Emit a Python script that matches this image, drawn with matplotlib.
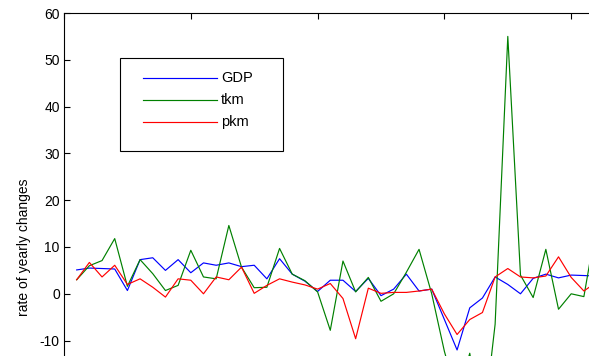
import matplotlib
matplotlib.use("Agg")
import matplotlib.pyplot as plt
from matplotlib.lines import Line2D
from matplotlib.patches import Rectangle

# yearly rate of change, one value per year (last point runs off the visible area)
years = list(range(1961, 2003))
gdp = [5.1, 5.5, 5.4, 5.3, 0.7, 7.3, 7.7, 5.0, 7.3, 4.5,
       6.6, 6.1, 6.6, 5.8, 6.1, 3.2, 7.5, 4.2, 2.7, 0.5,
       2.9, 2.9, 0.5, 3.3, -0.4, 1.0, 4.2, 0.6, 1.0, -5.5,
       -12.0, -3.0, -0.9, 3.6, 2.0, 0.0, 3.3, 4.2, 3.4, 4.0,
       3.9, 3.8]
tkm = [3.0, 6.0, 7.1, 11.8, 1.6, 7.3, 4.3, 0.7, 1.8, 9.3,
       3.6, 3.2, 14.6, 5.7, 1.3, 1.4, 9.7, 4.2, 2.8, 0.4,
       -7.8, 7.0, 0.4, 3.5, -1.6, 0.0, 4.6, 9.5, 0.0, -12.3,
       -22.0, -12.7, -30.0, -6.5, 55.0, 4.0, -0.8, 9.5, -3.3, 0.0,
       -0.6, 15.0]
pkm = [3.0, 6.7, 3.6, 6.1, 2.0, 3.2, 1.4, -0.7, 3.2, 2.9,
       0.0, 3.6, 3.0, 5.7, 0.1, 1.8, 3.2, 2.5, 1.9, 1.0,
       2.2, -1.0, -9.6, 1.2, 0.1, 0.3, 0.3, 0.6, 1.0, -4.3,
       -8.7, -5.5, -4.0, 3.6, 5.4, 3.6, 3.4, 3.8, 7.9, 3.5,
       0.6, 2.5]
series = [("GDP", gdp, "#0000ff"), ("tkm", tkm, "#008000"), ("pkm", pkm, "#ff0000")]
ytick_values = list(range(-40, 70, 10))

plt.rcParams["font.family"] = ["Liberation Sans", "DejaVu Sans"]

W, H = 589, 356
fig = plt.figure(figsize=(W / 100, H / 100), dpi=100)
fig.patch.set_facecolor("white")

# the original plot is cropped: axes run past the right and bottom edges
left, top, right, bottom = 64, 13, 698, 481
ax = fig.add_axes([left / W, (H - bottom) / H, (right - left) / W, (bottom - top) / H])

for name, vals, color in series:
    ax.plot(years, vals, color=color, lw=0.85, label=name)

ax.set_xlim(1960, 2010)
ax.set_ylim(-40, 60)
ax.set_xticks(range(1960, 2011, 10))
ax.set_xticklabels([])
ax.set_yticks(ytick_values)
# labels below -10 fall outside the cropped picture
ax.set_yticklabels([str(v) if v >= -10 else "" for v in ytick_values])
ax.tick_params(direction="in", top=True, right=True, length=4, width=0.8,
               labelsize=10, pad=3)
for sp in ax.spines.values():
    sp.set_linewidth(0.8)
ax.set_ylabel("rate of yearly changes", fontsize=10, labelpad=6)


# MATLAB-style legend box, laid out in pixels from the top-left corner
def fx(px):
    return px / W


def fy(py):
    return 1 - py / H


box = Rectangle((fx(120), fy(151)), fx(283) - fx(120), fy(58) - fy(151),
                transform=fig.transFigure, facecolor="white", edgecolor="black",
                lw=0.8, zorder=5)
fig.add_artist(box)
row_y = [78, 100, 122]
for (name, _, color), py in zip(series, row_y):
    fig.add_artist(Line2D([fx(143), fx(217)], [fy(py), fy(py)], color=color,
                          lw=0.85, transform=fig.transFigure, zorder=6))
    fig.text(fx(221), fy(py), name, fontsize=10.5, va="center", ha="left", zorder=6)

fig.savefig("out.png", dpi=100)
